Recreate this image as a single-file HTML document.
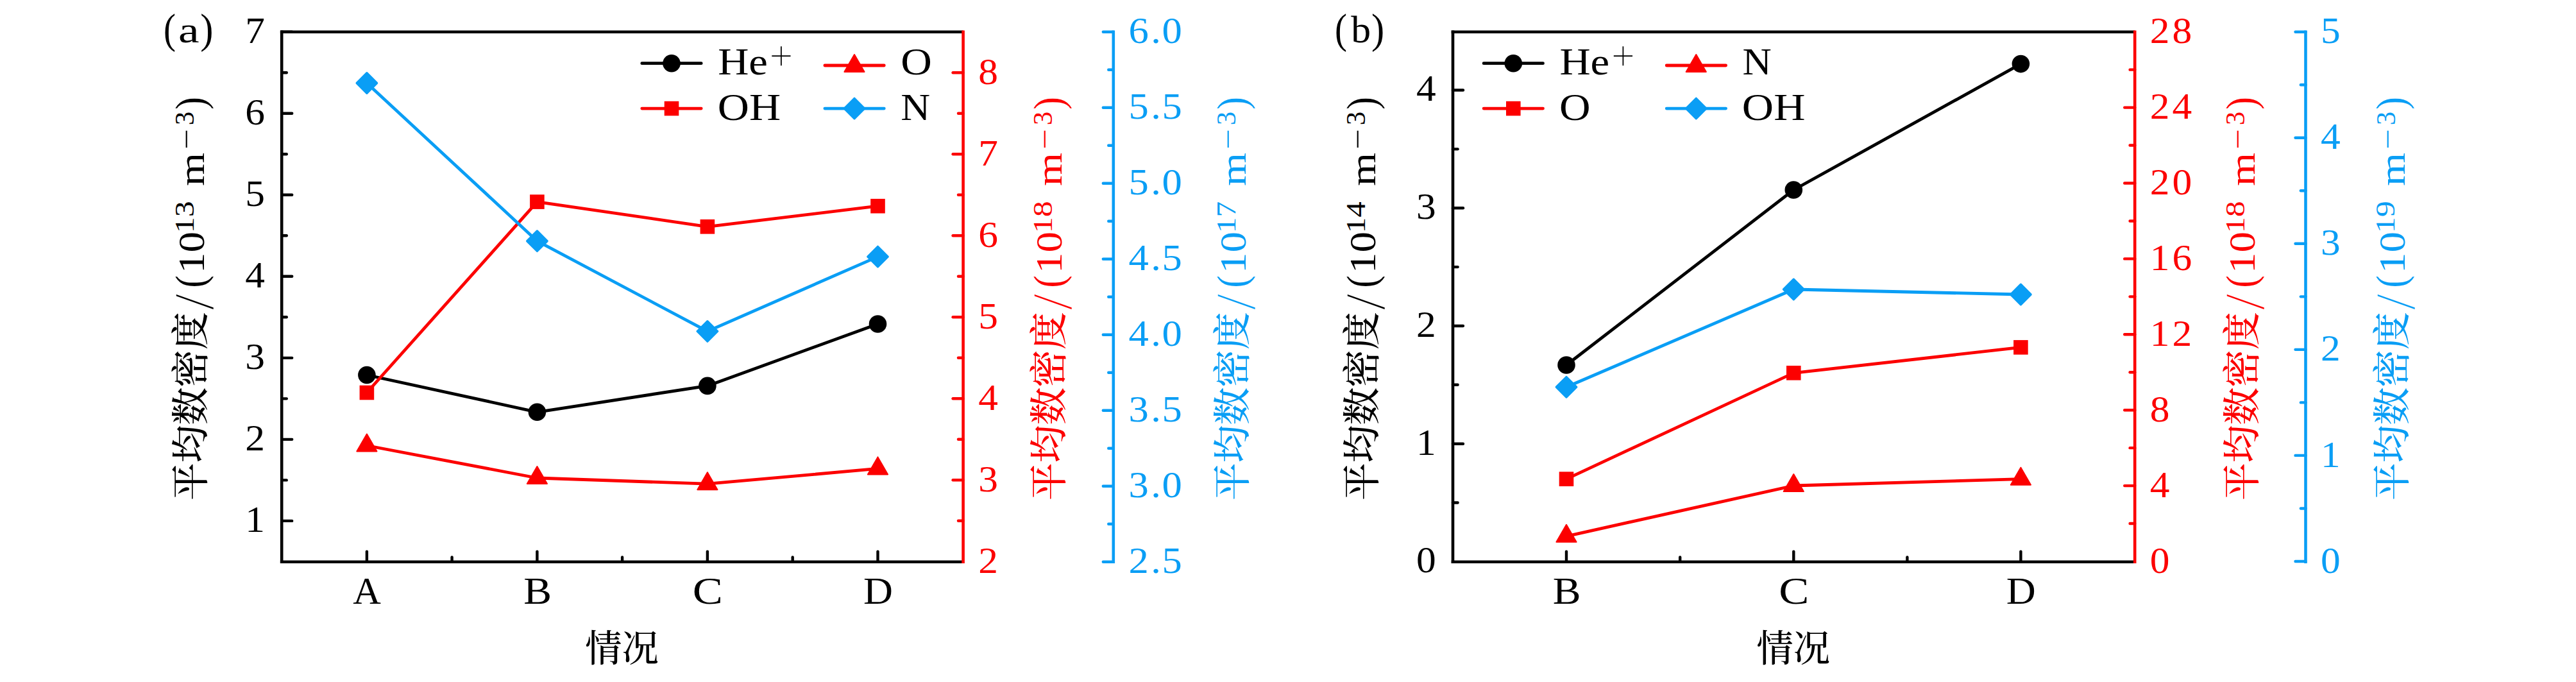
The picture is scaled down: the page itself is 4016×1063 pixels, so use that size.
<!DOCTYPE html>
<html lang="zh"><head><meta charset="utf-8"><title>平均数密度</title>
<style>
html,body{margin:0;padding:0;background:#fff;}
body{width:4016px;height:1063px;overflow:hidden;}
svg{display:block;}
text{font-family:"Liberation Serif","Noto Serif CJK SC",serif;}
</style></head><body>
<svg width="4016" height="1063" viewBox="0 0 4016 1063">
<rect x="0" y="0" width="4016" height="1063" fill="#fff"/>
<polyline points="571.90,694.50 837.40,745.00 1102.90,754.20 1368.50,730.40" fill="none" stroke="#fc0000" stroke-width="4.8" stroke-linejoin="round"/>
<polygon points="571.90,676.50 587.49,703.50 556.31,703.50" fill="#fc0000" stroke="#fc0000" stroke-width="2" stroke-linejoin="round"/>
<polygon points="837.40,727.00 852.99,754.00 821.81,754.00" fill="#fc0000" stroke="#fc0000" stroke-width="2" stroke-linejoin="round"/>
<polygon points="1102.90,736.20 1118.49,763.20 1087.31,763.20" fill="#fc0000" stroke="#fc0000" stroke-width="2" stroke-linejoin="round"/>
<polygon points="1368.50,712.40 1384.09,739.40 1352.91,739.40" fill="#fc0000" stroke="#fc0000" stroke-width="2" stroke-linejoin="round"/>
<polyline points="571.90,584.50 837.40,642.30 1102.90,601.40 1368.50,505.00" fill="none" stroke="#000000" stroke-width="4.8" stroke-linejoin="round"/>
<circle cx="571.90" cy="584.50" r="13.8" fill="#000000"/>
<circle cx="837.40" cy="642.30" r="13.8" fill="#000000"/>
<circle cx="1102.90" cy="601.40" r="13.8" fill="#000000"/>
<circle cx="1368.50" cy="505.00" r="13.8" fill="#000000"/>
<polyline points="571.90,612.00 837.40,314.60 1102.90,353.30 1368.50,321.20" fill="none" stroke="#fc0000" stroke-width="4.8" stroke-linejoin="round"/>
<rect x="560.60" y="600.70" width="22.6" height="22.6" fill="#fc0000"/>
<rect x="826.10" y="303.30" width="22.6" height="22.6" fill="#fc0000"/>
<rect x="1091.60" y="342.00" width="22.6" height="22.6" fill="#fc0000"/>
<rect x="1357.20" y="309.90" width="22.6" height="22.6" fill="#fc0000"/>
<polyline points="571.90,129.50 837.40,375.70 1102.90,516.40 1368.50,400.10" fill="none" stroke="#0a9ef5" stroke-width="4.8" stroke-linejoin="round"/>
<polygon points="571.90,113.80 587.60,129.50 571.90,145.20 556.20,129.50" fill="#0a9ef5" stroke="#0a9ef5" stroke-width="3.4" stroke-linejoin="round"/>
<polygon points="837.40,360.00 853.10,375.70 837.40,391.40 821.70,375.70" fill="#0a9ef5" stroke="#0a9ef5" stroke-width="3.4" stroke-linejoin="round"/>
<polygon points="1102.90,500.70 1118.60,516.40 1102.90,532.10 1087.20,516.40" fill="#0a9ef5" stroke="#0a9ef5" stroke-width="3.4" stroke-linejoin="round"/>
<polygon points="1368.50,384.40 1384.20,400.10 1368.50,415.80 1352.80,400.10" fill="#0a9ef5" stroke="#0a9ef5" stroke-width="3.4" stroke-linejoin="round"/>
<line x1="439.20" y1="47.40" x2="439.20" y2="878.10" stroke="#000000" stroke-width="4.6" stroke-linecap="butt"/>
<line x1="436.90" y1="49.70" x2="1501.60" y2="49.70" stroke="#000000" stroke-width="4.6" stroke-linecap="butt"/>
<line x1="436.90" y1="875.80" x2="1501.60" y2="875.80" stroke="#000000" stroke-width="4.6" stroke-linecap="butt"/>
<line x1="571.90" y1="875.80" x2="571.90" y2="859.60" stroke="#000000" stroke-width="4.4" stroke-linecap="round"/>
<line x1="837.40" y1="875.80" x2="837.40" y2="859.60" stroke="#000000" stroke-width="4.4" stroke-linecap="round"/>
<line x1="1102.90" y1="875.80" x2="1102.90" y2="859.60" stroke="#000000" stroke-width="4.4" stroke-linecap="round"/>
<line x1="1368.50" y1="875.80" x2="1368.50" y2="859.60" stroke="#000000" stroke-width="4.4" stroke-linecap="round"/>
<line x1="704.60" y1="875.80" x2="704.60" y2="868.50" stroke="#000000" stroke-width="4.4" stroke-linecap="round"/>
<line x1="970.10" y1="875.80" x2="970.10" y2="868.50" stroke="#000000" stroke-width="4.4" stroke-linecap="round"/>
<line x1="1235.70" y1="875.80" x2="1235.70" y2="868.50" stroke="#000000" stroke-width="4.4" stroke-linecap="round"/>
<line x1="439.20" y1="811.90" x2="455.20" y2="811.90" stroke="#000000" stroke-width="4.4" stroke-linecap="round"/>
<line x1="439.20" y1="684.87" x2="455.20" y2="684.87" stroke="#000000" stroke-width="4.4" stroke-linecap="round"/>
<line x1="439.20" y1="557.83" x2="455.20" y2="557.83" stroke="#000000" stroke-width="4.4" stroke-linecap="round"/>
<line x1="439.20" y1="430.80" x2="455.20" y2="430.80" stroke="#000000" stroke-width="4.4" stroke-linecap="round"/>
<line x1="439.20" y1="303.77" x2="455.20" y2="303.77" stroke="#000000" stroke-width="4.4" stroke-linecap="round"/>
<line x1="439.20" y1="176.73" x2="455.20" y2="176.73" stroke="#000000" stroke-width="4.4" stroke-linecap="round"/>
<line x1="439.20" y1="49.70" x2="455.20" y2="49.70" stroke="#000000" stroke-width="4.4" stroke-linecap="round"/>
<line x1="439.20" y1="748.39" x2="446.80" y2="748.39" stroke="#000000" stroke-width="4.4" stroke-linecap="round"/>
<line x1="439.20" y1="621.35" x2="446.80" y2="621.35" stroke="#000000" stroke-width="4.4" stroke-linecap="round"/>
<line x1="439.20" y1="494.32" x2="446.80" y2="494.32" stroke="#000000" stroke-width="4.4" stroke-linecap="round"/>
<line x1="439.20" y1="367.28" x2="446.80" y2="367.28" stroke="#000000" stroke-width="4.4" stroke-linecap="round"/>
<line x1="439.20" y1="240.25" x2="446.80" y2="240.25" stroke="#000000" stroke-width="4.4" stroke-linecap="round"/>
<line x1="439.20" y1="113.22" x2="446.80" y2="113.22" stroke="#000000" stroke-width="4.4" stroke-linecap="round"/>
<text transform="translate(413.00,828.80) scale(1.0600,1.0000)" font-size="58" fill="#000000" text-anchor="end">1</text>
<text transform="translate(413.00,701.77) scale(1.0600,1.0000)" font-size="58" fill="#000000" text-anchor="end">2</text>
<text transform="translate(413.00,574.73) scale(1.0600,1.0000)" font-size="58" fill="#000000" text-anchor="end">3</text>
<text transform="translate(413.00,447.70) scale(1.0600,1.0000)" font-size="58" fill="#000000" text-anchor="end">4</text>
<text transform="translate(413.00,320.67) scale(1.0600,1.0000)" font-size="58" fill="#000000" text-anchor="end">5</text>
<text transform="translate(413.00,193.63) scale(1.0600,1.0000)" font-size="58" fill="#000000" text-anchor="end">6</text>
<text transform="translate(413.00,66.60) scale(1.0600,1.0000)" font-size="58" fill="#000000" text-anchor="end">7</text>
<line x1="1501.60" y1="748.28" x2="1485.60" y2="748.28" stroke="#fc0000" stroke-width="4.4" stroke-linecap="round"/>
<line x1="1501.60" y1="621.26" x2="1485.60" y2="621.26" stroke="#fc0000" stroke-width="4.4" stroke-linecap="round"/>
<line x1="1501.60" y1="494.25" x2="1485.60" y2="494.25" stroke="#fc0000" stroke-width="4.4" stroke-linecap="round"/>
<line x1="1501.60" y1="367.24" x2="1485.60" y2="367.24" stroke="#fc0000" stroke-width="4.4" stroke-linecap="round"/>
<line x1="1501.60" y1="240.22" x2="1485.60" y2="240.22" stroke="#fc0000" stroke-width="4.4" stroke-linecap="round"/>
<line x1="1501.60" y1="113.21" x2="1485.60" y2="113.21" stroke="#fc0000" stroke-width="4.4" stroke-linecap="round"/>
<line x1="1501.60" y1="811.78" x2="1494.00" y2="811.78" stroke="#fc0000" stroke-width="4.4" stroke-linecap="round"/>
<line x1="1501.60" y1="684.77" x2="1494.00" y2="684.77" stroke="#fc0000" stroke-width="4.4" stroke-linecap="round"/>
<line x1="1501.60" y1="557.76" x2="1494.00" y2="557.76" stroke="#fc0000" stroke-width="4.4" stroke-linecap="round"/>
<line x1="1501.60" y1="430.74" x2="1494.00" y2="430.74" stroke="#fc0000" stroke-width="4.4" stroke-linecap="round"/>
<line x1="1501.60" y1="303.73" x2="1494.00" y2="303.73" stroke="#fc0000" stroke-width="4.4" stroke-linecap="round"/>
<line x1="1501.60" y1="176.71" x2="1494.00" y2="176.71" stroke="#fc0000" stroke-width="4.4" stroke-linecap="round"/>
<line x1="1501.60" y1="47.40" x2="1501.60" y2="878.10" stroke="#fc0000" stroke-width="4.6" stroke-linecap="butt"/>
<text transform="translate(1525.20,892.89) scale(1.0600,1.0000)" font-size="58" fill="#fc0000" text-anchor="start">2</text>
<text transform="translate(1525.20,765.88) scale(1.0600,1.0000)" font-size="58" fill="#fc0000" text-anchor="start">3</text>
<text transform="translate(1525.20,638.86) scale(1.0600,1.0000)" font-size="58" fill="#fc0000" text-anchor="start">4</text>
<text transform="translate(1525.20,511.85) scale(1.0600,1.0000)" font-size="58" fill="#fc0000" text-anchor="start">5</text>
<text transform="translate(1525.20,384.84) scale(1.0600,1.0000)" font-size="58" fill="#fc0000" text-anchor="start">6</text>
<text transform="translate(1525.20,257.82) scale(1.0600,1.0000)" font-size="58" fill="#fc0000" text-anchor="start">7</text>
<text transform="translate(1525.20,130.81) scale(1.0600,1.0000)" font-size="58" fill="#fc0000" text-anchor="start">8</text>
<line x1="1735.80" y1="875.80" x2="1719.80" y2="875.80" stroke="#0a9ef5" stroke-width="4.4" stroke-linecap="round"/>
<line x1="1735.80" y1="757.79" x2="1719.80" y2="757.79" stroke="#0a9ef5" stroke-width="4.4" stroke-linecap="round"/>
<line x1="1735.80" y1="639.77" x2="1719.80" y2="639.77" stroke="#0a9ef5" stroke-width="4.4" stroke-linecap="round"/>
<line x1="1735.80" y1="521.76" x2="1719.80" y2="521.76" stroke="#0a9ef5" stroke-width="4.4" stroke-linecap="round"/>
<line x1="1735.80" y1="403.74" x2="1719.80" y2="403.74" stroke="#0a9ef5" stroke-width="4.4" stroke-linecap="round"/>
<line x1="1735.80" y1="285.73" x2="1719.80" y2="285.73" stroke="#0a9ef5" stroke-width="4.4" stroke-linecap="round"/>
<line x1="1735.80" y1="167.71" x2="1719.80" y2="167.71" stroke="#0a9ef5" stroke-width="4.4" stroke-linecap="round"/>
<line x1="1735.80" y1="49.70" x2="1719.80" y2="49.70" stroke="#0a9ef5" stroke-width="4.4" stroke-linecap="round"/>
<line x1="1735.80" y1="816.79" x2="1728.20" y2="816.79" stroke="#0a9ef5" stroke-width="4.4" stroke-linecap="round"/>
<line x1="1735.80" y1="698.78" x2="1728.20" y2="698.78" stroke="#0a9ef5" stroke-width="4.4" stroke-linecap="round"/>
<line x1="1735.80" y1="580.76" x2="1728.20" y2="580.76" stroke="#0a9ef5" stroke-width="4.4" stroke-linecap="round"/>
<line x1="1735.80" y1="462.75" x2="1728.20" y2="462.75" stroke="#0a9ef5" stroke-width="4.4" stroke-linecap="round"/>
<line x1="1735.80" y1="344.74" x2="1728.20" y2="344.74" stroke="#0a9ef5" stroke-width="4.4" stroke-linecap="round"/>
<line x1="1735.80" y1="226.72" x2="1728.20" y2="226.72" stroke="#0a9ef5" stroke-width="4.4" stroke-linecap="round"/>
<line x1="1735.80" y1="108.71" x2="1728.20" y2="108.71" stroke="#0a9ef5" stroke-width="4.4" stroke-linecap="round"/>
<line x1="1735.80" y1="47.40" x2="1735.80" y2="878.10" stroke="#0a9ef5" stroke-width="4.6" stroke-linecap="butt"/>
<text transform="translate(1759.60,893.40) scale(1.0800,1.0000)" font-size="58" fill="#0a9ef5" text-anchor="start" x="0.00 32.04 48.15">2.5</text>
<text transform="translate(1759.60,775.39) scale(1.0800,1.0000)" font-size="58" fill="#0a9ef5" text-anchor="start" x="0.00 32.04 48.15">3.0</text>
<text transform="translate(1759.60,657.37) scale(1.0800,1.0000)" font-size="58" fill="#0a9ef5" text-anchor="start" x="0.00 32.04 48.15">3.5</text>
<text transform="translate(1759.60,539.36) scale(1.0800,1.0000)" font-size="58" fill="#0a9ef5" text-anchor="start" x="0.00 32.04 48.15">4.0</text>
<text transform="translate(1759.60,421.34) scale(1.0800,1.0000)" font-size="58" fill="#0a9ef5" text-anchor="start" x="0.00 32.04 48.15">4.5</text>
<text transform="translate(1759.60,303.33) scale(1.0800,1.0000)" font-size="58" fill="#0a9ef5" text-anchor="start" x="0.00 32.04 48.15">5.0</text>
<text transform="translate(1759.60,185.31) scale(1.0800,1.0000)" font-size="58" fill="#0a9ef5" text-anchor="start" x="0.00 32.04 48.15">5.5</text>
<text transform="translate(1759.60,67.30) scale(1.0800,1.0000)" font-size="58" fill="#0a9ef5" text-anchor="start" x="0.00 32.04 48.15">6.0</text>
<text transform="translate(550.15,941.20) scale(1.0070,1.0000)" font-size="60" fill="#000000">A</text>
<text transform="translate(816.21,941.20) scale(1.0952,1.0000)" font-size="60" fill="#000000">B</text>
<text transform="translate(1079.78,941.20) scale(1.1768,1.0000)" font-size="60" fill="#000000">C</text>
<text transform="translate(1345.91,941.20) scale(1.0606,1.0000)" font-size="60" fill="#000000">D</text>
<text transform="translate(912.25,1030.80) scale(0.9808,1.0000)" font-size="58.5" fill="#000000" font-weight="500">情况</text>
<g transform="translate(317.50,777.6) rotate(-90)">
<text transform="translate(-2.35,0.80) scale(1.0007,1.0000)" font-size="58.7" fill="#000000" font-weight="500">平均数密度</text>
<text transform="translate(294.30,14.51) scale(0.9214,0.8866)" font-size="100" fill="#000000" stroke="#fff" stroke-width="1.7">/</text>
<text transform="translate(329.01,1.41) scale(0.5736,0.6462)" font-size="100" fill="#000000">(</text>
<text transform="translate(351.48,0.00) scale(1.1404,1.0000)" font-size="57" fill="#000000">10</text>
<text transform="translate(414.35,-15.60) scale(1.1905,1.0000)" font-size="42" fill="#000000">13</text>
<text transform="translate(487.56,0.00) scale(1.1548,1.0000)" font-size="58" fill="#000000">m</text>
<text transform="translate(544.75,-12.19) scale(0.5663,0.4364)" font-size="100" fill="#000000">−</text>
<text transform="translate(582.47,-15.50) scale(1.0204,1.0000)" font-size="42" fill="#000000">3</text>
<text transform="translate(607.17,1.41) scale(0.5769,0.6462)" font-size="100" fill="#000000">)</text>
</g>
<g transform="translate(1655.30,777.6) rotate(-90)">
<text transform="translate(-2.35,0.80) scale(1.0007,1.0000)" font-size="58.7" fill="#fc0000" font-weight="500">平均数密度</text>
<text transform="translate(294.30,14.51) scale(0.9214,0.8866)" font-size="100" fill="#fc0000" stroke="#fff" stroke-width="1.7">/</text>
<text transform="translate(329.01,1.41) scale(0.5736,0.6462)" font-size="100" fill="#fc0000">(</text>
<text transform="translate(351.48,0.00) scale(1.1404,1.0000)" font-size="57" fill="#fc0000">10</text>
<text transform="translate(414.35,-15.60) scale(1.1905,1.0000)" font-size="42" fill="#fc0000">18</text>
<text transform="translate(487.56,0.00) scale(1.1548,1.0000)" font-size="58" fill="#fc0000">m</text>
<text transform="translate(544.75,-12.19) scale(0.5663,0.4364)" font-size="100" fill="#fc0000">−</text>
<text transform="translate(582.47,-15.50) scale(1.0204,1.0000)" font-size="42" fill="#fc0000">3</text>
<text transform="translate(607.17,1.41) scale(0.5769,0.6462)" font-size="100" fill="#fc0000">)</text>
</g>
<g transform="translate(1941.60,777.6) rotate(-90)">
<text transform="translate(-2.35,0.80) scale(1.0007,1.0000)" font-size="58.7" fill="#0a9ef5" font-weight="500">平均数密度</text>
<text transform="translate(294.30,14.51) scale(0.9214,0.8866)" font-size="100" fill="#0a9ef5" stroke="#fff" stroke-width="1.7">/</text>
<text transform="translate(329.01,1.41) scale(0.5736,0.6462)" font-size="100" fill="#0a9ef5">(</text>
<text transform="translate(351.48,0.00) scale(1.1404,1.0000)" font-size="57" fill="#0a9ef5">10</text>
<text transform="translate(414.40,-15.60) scale(1.1771,1.0000)" font-size="42" fill="#0a9ef5">17</text>
<text transform="translate(487.56,0.00) scale(1.1548,1.0000)" font-size="58" fill="#0a9ef5">m</text>
<text transform="translate(544.75,-12.19) scale(0.5663,0.4364)" font-size="100" fill="#0a9ef5">−</text>
<text transform="translate(582.47,-15.50) scale(1.0204,1.0000)" font-size="42" fill="#0a9ef5">3</text>
<text transform="translate(607.17,1.41) scale(0.5769,0.6462)" font-size="100" fill="#0a9ef5">)</text>
</g>
<text transform="translate(255.12,66.83) scale(0.5698,0.6451)" font-size="100" fill="#000000">(</text>
<text transform="translate(277.93,66.30) scale(1.2895,1.0000)" font-size="57" fill="#000000">a</text>
<text transform="translate(312.28,66.83) scale(0.6077,0.6451)" font-size="100" fill="#000000">)</text>
<line x1="1000.80" y1="98.70" x2="1093.20" y2="98.70" stroke="#000000" stroke-width="4.8" stroke-linecap="round"/>
<circle cx="1047.00" cy="98.70" r="13.8" fill="#000000"/>
<text transform="translate(1119.13,116.30) scale(1.1124,1.0000)" font-size="60" fill="#000000">He</text>
<text transform="translate(1199.33,109.93) scale(0.6611,0.6766)" font-size="100" fill="#000000" stroke="#fff" stroke-width="2.2">+</text>
<line x1="1000.80" y1="169.10" x2="1093.20" y2="169.10" stroke="#fc0000" stroke-width="4.8" stroke-linecap="round"/>
<rect x="1035.70" y="157.80" width="22.6" height="22.6" fill="#fc0000"/>
<text transform="translate(1118.78,186.70) scale(1.1352,1.0000)" font-size="60" fill="#000000">OH</text>
<line x1="1285.90" y1="102.00" x2="1378.30" y2="102.00" stroke="#fc0000" stroke-width="4.8" stroke-linecap="round"/>
<polygon points="1332.00,85.00 1347.59,112.00 1316.41,112.00" fill="#fc0000" stroke="#fc0000" stroke-width="2" stroke-linejoin="round"/>
<text transform="translate(1404.31,116.30) scale(1.1214,1.0000)" font-size="60" fill="#000000">O</text>
<line x1="1285.90" y1="169.10" x2="1378.30" y2="169.10" stroke="#0a9ef5" stroke-width="4.8" stroke-linecap="round"/>
<polygon points="1332.00,153.40 1347.70,169.10 1332.00,184.80 1316.30,169.10" fill="#0a9ef5" stroke="#0a9ef5" stroke-width="3.4" stroke-linejoin="round"/>
<text transform="translate(1404.31,186.70) scale(1.0593,1.0000)" font-size="60" fill="#000000">N</text>
<polyline points="2442.00,835.80 2796.30,757.00 3150.40,746.70" fill="none" stroke="#fc0000" stroke-width="4.8" stroke-linejoin="round"/>
<polygon points="2442.00,817.80 2457.59,844.80 2426.41,844.80" fill="#fc0000" stroke="#fc0000" stroke-width="2" stroke-linejoin="round"/>
<polygon points="2796.30,739.00 2811.89,766.00 2780.71,766.00" fill="#fc0000" stroke="#fc0000" stroke-width="2" stroke-linejoin="round"/>
<polygon points="3150.40,728.70 3165.99,755.70 3134.81,755.70" fill="#fc0000" stroke="#fc0000" stroke-width="2" stroke-linejoin="round"/>
<polyline points="2442.00,746.60 2796.30,581.30 3150.40,541.40" fill="none" stroke="#fc0000" stroke-width="4.8" stroke-linejoin="round"/>
<rect x="2430.70" y="735.30" width="22.6" height="22.6" fill="#fc0000"/>
<rect x="2785.00" y="570.00" width="22.6" height="22.6" fill="#fc0000"/>
<rect x="3139.10" y="530.10" width="22.6" height="22.6" fill="#fc0000"/>
<polyline points="2442.00,603.30 2796.30,451.00 3150.40,459.00" fill="none" stroke="#0a9ef5" stroke-width="4.8" stroke-linejoin="round"/>
<polygon points="2442.00,587.60 2457.70,603.30 2442.00,619.00 2426.30,603.30" fill="#0a9ef5" stroke="#0a9ef5" stroke-width="3.4" stroke-linejoin="round"/>
<polygon points="2796.30,435.30 2812.00,451.00 2796.30,466.70 2780.60,451.00" fill="#0a9ef5" stroke="#0a9ef5" stroke-width="3.4" stroke-linejoin="round"/>
<polygon points="3150.40,443.30 3166.10,459.00 3150.40,474.70 3134.70,459.00" fill="#0a9ef5" stroke="#0a9ef5" stroke-width="3.4" stroke-linejoin="round"/>
<polyline points="2442.00,569.00 2796.30,296.00 3150.40,99.60" fill="none" stroke="#000000" stroke-width="4.8" stroke-linejoin="round"/>
<circle cx="2442.00" cy="569.00" r="13.8" fill="#000000"/>
<circle cx="2796.30" cy="296.00" r="13.8" fill="#000000"/>
<circle cx="3150.40" cy="99.60" r="13.8" fill="#000000"/>
<line x1="2265.00" y1="47.40" x2="2265.00" y2="878.10" stroke="#000000" stroke-width="4.6" stroke-linecap="butt"/>
<line x1="2262.70" y1="49.70" x2="3328.20" y2="49.70" stroke="#000000" stroke-width="4.6" stroke-linecap="butt"/>
<line x1="2262.70" y1="875.80" x2="3328.20" y2="875.80" stroke="#000000" stroke-width="4.6" stroke-linecap="butt"/>
<line x1="2442.00" y1="875.80" x2="2442.00" y2="859.60" stroke="#000000" stroke-width="4.4" stroke-linecap="round"/>
<line x1="2796.30" y1="875.80" x2="2796.30" y2="859.60" stroke="#000000" stroke-width="4.4" stroke-linecap="round"/>
<line x1="3150.40" y1="875.80" x2="3150.40" y2="859.60" stroke="#000000" stroke-width="4.4" stroke-linecap="round"/>
<line x1="2619.20" y1="875.80" x2="2619.20" y2="868.50" stroke="#000000" stroke-width="4.4" stroke-linecap="round"/>
<line x1="2973.40" y1="875.80" x2="2973.40" y2="868.50" stroke="#000000" stroke-width="4.4" stroke-linecap="round"/>
<line x1="2265.00" y1="691.69" x2="2281.00" y2="691.69" stroke="#000000" stroke-width="4.4" stroke-linecap="round"/>
<line x1="2265.00" y1="507.95" x2="2281.00" y2="507.95" stroke="#000000" stroke-width="4.4" stroke-linecap="round"/>
<line x1="2265.00" y1="324.21" x2="2281.00" y2="324.21" stroke="#000000" stroke-width="4.4" stroke-linecap="round"/>
<line x1="2265.00" y1="140.47" x2="2281.00" y2="140.47" stroke="#000000" stroke-width="4.4" stroke-linecap="round"/>
<line x1="2265.00" y1="783.56" x2="2272.60" y2="783.56" stroke="#000000" stroke-width="4.4" stroke-linecap="round"/>
<line x1="2265.00" y1="599.82" x2="2272.60" y2="599.82" stroke="#000000" stroke-width="4.4" stroke-linecap="round"/>
<line x1="2265.00" y1="416.08" x2="2272.60" y2="416.08" stroke="#000000" stroke-width="4.4" stroke-linecap="round"/>
<line x1="2265.00" y1="232.34" x2="2272.60" y2="232.34" stroke="#000000" stroke-width="4.4" stroke-linecap="round"/>
<text transform="translate(2238.80,892.33) scale(1.0600,1.0000)" font-size="58" fill="#000000" text-anchor="end">0</text>
<text transform="translate(2238.80,708.59) scale(1.0600,1.0000)" font-size="58" fill="#000000" text-anchor="end">1</text>
<text transform="translate(2238.80,524.85) scale(1.0600,1.0000)" font-size="58" fill="#000000" text-anchor="end">2</text>
<text transform="translate(2238.80,341.11) scale(1.0600,1.0000)" font-size="58" fill="#000000" text-anchor="end">3</text>
<text transform="translate(2238.80,157.37) scale(1.0600,1.0000)" font-size="58" fill="#000000" text-anchor="end">4</text>
<line x1="3328.20" y1="757.10" x2="3312.20" y2="757.10" stroke="#fc0000" stroke-width="4.4" stroke-linecap="round"/>
<line x1="3328.20" y1="639.20" x2="3312.20" y2="639.20" stroke="#fc0000" stroke-width="4.4" stroke-linecap="round"/>
<line x1="3328.20" y1="521.30" x2="3312.20" y2="521.30" stroke="#fc0000" stroke-width="4.4" stroke-linecap="round"/>
<line x1="3328.20" y1="403.40" x2="3312.20" y2="403.40" stroke="#fc0000" stroke-width="4.4" stroke-linecap="round"/>
<line x1="3328.20" y1="285.50" x2="3312.20" y2="285.50" stroke="#fc0000" stroke-width="4.4" stroke-linecap="round"/>
<line x1="3328.20" y1="167.60" x2="3312.20" y2="167.60" stroke="#fc0000" stroke-width="4.4" stroke-linecap="round"/>
<line x1="3328.20" y1="816.05" x2="3320.60" y2="816.05" stroke="#fc0000" stroke-width="4.4" stroke-linecap="round"/>
<line x1="3328.20" y1="698.15" x2="3320.60" y2="698.15" stroke="#fc0000" stroke-width="4.4" stroke-linecap="round"/>
<line x1="3328.20" y1="580.25" x2="3320.60" y2="580.25" stroke="#fc0000" stroke-width="4.4" stroke-linecap="round"/>
<line x1="3328.20" y1="462.35" x2="3320.60" y2="462.35" stroke="#fc0000" stroke-width="4.4" stroke-linecap="round"/>
<line x1="3328.20" y1="344.45" x2="3320.60" y2="344.45" stroke="#fc0000" stroke-width="4.4" stroke-linecap="round"/>
<line x1="3328.20" y1="226.55" x2="3320.60" y2="226.55" stroke="#fc0000" stroke-width="4.4" stroke-linecap="round"/>
<line x1="3328.20" y1="108.65" x2="3320.60" y2="108.65" stroke="#fc0000" stroke-width="4.4" stroke-linecap="round"/>
<line x1="3328.20" y1="47.40" x2="3328.20" y2="878.10" stroke="#fc0000" stroke-width="4.6" stroke-linecap="butt"/>
<text transform="translate(3351.80,892.60) scale(1.0600,1.0000)" font-size="58" fill="#fc0000" text-anchor="start">0</text>
<text transform="translate(3351.80,774.70) scale(1.0600,1.0000)" font-size="58" fill="#fc0000" text-anchor="start">4</text>
<text transform="translate(3351.80,656.80) scale(1.0600,1.0000)" font-size="58" fill="#fc0000" text-anchor="start">8</text>
<text transform="translate(3351.80,538.90) scale(1.0600,1.0000)" font-size="58" fill="#fc0000" text-anchor="start" x="0.00 32.64">12</text>
<text transform="translate(3351.80,421.00) scale(1.0600,1.0000)" font-size="58" fill="#fc0000" text-anchor="start" x="0.00 32.64">16</text>
<text transform="translate(3351.80,303.10) scale(1.0600,1.0000)" font-size="58" fill="#fc0000" text-anchor="start" x="0.00 32.64">20</text>
<text transform="translate(3351.80,185.20) scale(1.0600,1.0000)" font-size="58" fill="#fc0000" text-anchor="start" x="0.00 32.64">24</text>
<text transform="translate(3351.80,67.30) scale(1.0600,1.0000)" font-size="58" fill="#fc0000" text-anchor="start" x="0.00 32.64">28</text>
<line x1="3594.50" y1="874.97" x2="3578.50" y2="874.97" stroke="#0a9ef5" stroke-width="4.4" stroke-linecap="round"/>
<line x1="3594.50" y1="709.92" x2="3578.50" y2="709.92" stroke="#0a9ef5" stroke-width="4.4" stroke-linecap="round"/>
<line x1="3594.50" y1="544.86" x2="3578.50" y2="544.86" stroke="#0a9ef5" stroke-width="4.4" stroke-linecap="round"/>
<line x1="3594.50" y1="379.81" x2="3578.50" y2="379.81" stroke="#0a9ef5" stroke-width="4.4" stroke-linecap="round"/>
<line x1="3594.50" y1="214.75" x2="3578.50" y2="214.75" stroke="#0a9ef5" stroke-width="4.4" stroke-linecap="round"/>
<line x1="3594.50" y1="49.70" x2="3578.50" y2="49.70" stroke="#0a9ef5" stroke-width="4.4" stroke-linecap="round"/>
<line x1="3594.50" y1="792.45" x2="3586.90" y2="792.45" stroke="#0a9ef5" stroke-width="4.4" stroke-linecap="round"/>
<line x1="3594.50" y1="627.39" x2="3586.90" y2="627.39" stroke="#0a9ef5" stroke-width="4.4" stroke-linecap="round"/>
<line x1="3594.50" y1="462.34" x2="3586.90" y2="462.34" stroke="#0a9ef5" stroke-width="4.4" stroke-linecap="round"/>
<line x1="3594.50" y1="297.28" x2="3586.90" y2="297.28" stroke="#0a9ef5" stroke-width="4.4" stroke-linecap="round"/>
<line x1="3594.50" y1="132.23" x2="3586.90" y2="132.23" stroke="#0a9ef5" stroke-width="4.4" stroke-linecap="round"/>
<line x1="3594.50" y1="47.40" x2="3594.50" y2="878.10" stroke="#0a9ef5" stroke-width="4.6" stroke-linecap="butt"/>
<text transform="translate(3618.10,892.57) scale(1.0600,1.0000)" font-size="58" fill="#0a9ef5" text-anchor="start">0</text>
<text transform="translate(3618.10,727.52) scale(1.0600,1.0000)" font-size="58" fill="#0a9ef5" text-anchor="start">1</text>
<text transform="translate(3618.10,562.46) scale(1.0600,1.0000)" font-size="58" fill="#0a9ef5" text-anchor="start">2</text>
<text transform="translate(3618.10,397.41) scale(1.0600,1.0000)" font-size="58" fill="#0a9ef5" text-anchor="start">3</text>
<text transform="translate(3618.10,232.35) scale(1.0600,1.0000)" font-size="58" fill="#0a9ef5" text-anchor="start">4</text>
<text transform="translate(3618.10,67.30) scale(1.0600,1.0000)" font-size="58" fill="#0a9ef5" text-anchor="start">5</text>
<text transform="translate(2420.81,941.20) scale(1.0952,1.0000)" font-size="60" fill="#000000">B</text>
<text transform="translate(2773.18,941.20) scale(1.1768,1.0000)" font-size="60" fill="#000000">C</text>
<text transform="translate(3127.81,941.20) scale(1.0606,1.0000)" font-size="60" fill="#000000">D</text>
<text transform="translate(2738.45,1030.80) scale(0.9808,1.0000)" font-size="58.5" fill="#000000" font-weight="500">情况</text>
<g transform="translate(2143.50,777.6) rotate(-90)">
<text transform="translate(-2.35,0.80) scale(1.0007,1.0000)" font-size="58.7" fill="#000000" font-weight="500">平均数密度</text>
<text transform="translate(294.30,14.51) scale(0.9214,0.8866)" font-size="100" fill="#000000" stroke="#fff" stroke-width="1.7">/</text>
<text transform="translate(329.01,1.41) scale(0.5736,0.6462)" font-size="100" fill="#000000">(</text>
<text transform="translate(351.48,0.00) scale(1.1404,1.0000)" font-size="57" fill="#000000">10</text>
<text transform="translate(414.44,-15.60) scale(1.1640,1.0000)" font-size="42" fill="#000000">14</text>
<text transform="translate(487.56,0.00) scale(1.1548,1.0000)" font-size="58" fill="#000000">m</text>
<text transform="translate(544.75,-12.19) scale(0.5663,0.4364)" font-size="100" fill="#000000">−</text>
<text transform="translate(582.47,-15.50) scale(1.0204,1.0000)" font-size="42" fill="#000000">3</text>
<text transform="translate(607.17,1.41) scale(0.5769,0.6462)" font-size="100" fill="#000000">)</text>
</g>
<g transform="translate(3514.80,777.6) rotate(-90)">
<text transform="translate(-2.35,0.80) scale(1.0007,1.0000)" font-size="58.7" fill="#fc0000" font-weight="500">平均数密度</text>
<text transform="translate(294.30,14.51) scale(0.9214,0.8866)" font-size="100" fill="#fc0000" stroke="#fff" stroke-width="1.7">/</text>
<text transform="translate(329.01,1.41) scale(0.5736,0.6462)" font-size="100" fill="#fc0000">(</text>
<text transform="translate(351.48,0.00) scale(1.1404,1.0000)" font-size="57" fill="#fc0000">10</text>
<text transform="translate(414.35,-15.60) scale(1.1905,1.0000)" font-size="42" fill="#fc0000">18</text>
<text transform="translate(487.56,0.00) scale(1.1548,1.0000)" font-size="58" fill="#fc0000">m</text>
<text transform="translate(544.75,-12.19) scale(0.5663,0.4364)" font-size="100" fill="#fc0000">−</text>
<text transform="translate(582.47,-15.50) scale(1.0204,1.0000)" font-size="42" fill="#fc0000">3</text>
<text transform="translate(607.17,1.41) scale(0.5769,0.6462)" font-size="100" fill="#fc0000">)</text>
</g>
<g transform="translate(3749.00,777.6) rotate(-90)">
<text transform="translate(-2.35,0.80) scale(1.0007,1.0000)" font-size="58.7" fill="#0a9ef5" font-weight="500">平均数密度</text>
<text transform="translate(294.30,14.51) scale(0.9214,0.8866)" font-size="100" fill="#0a9ef5" stroke="#fff" stroke-width="1.7">/</text>
<text transform="translate(329.01,1.41) scale(0.5736,0.6462)" font-size="100" fill="#0a9ef5">(</text>
<text transform="translate(351.48,0.00) scale(1.1404,1.0000)" font-size="57" fill="#0a9ef5">10</text>
<text transform="translate(414.33,-15.60) scale(1.1973,1.0000)" font-size="42" fill="#0a9ef5">19</text>
<text transform="translate(487.56,0.00) scale(1.1548,1.0000)" font-size="58" fill="#0a9ef5">m</text>
<text transform="translate(544.75,-12.19) scale(0.5663,0.4364)" font-size="100" fill="#0a9ef5">−</text>
<text transform="translate(582.47,-15.50) scale(1.0204,1.0000)" font-size="42" fill="#0a9ef5">3</text>
<text transform="translate(607.17,1.41) scale(0.5769,0.6462)" font-size="100" fill="#0a9ef5">)</text>
</g>
<text transform="translate(2080.92,66.83) scale(0.5698,0.6451)" font-size="100" fill="#000000">(</text>
<text transform="translate(2106.30,66.30) scale(1.0461,1.0000)" font-size="59" fill="#000000">b</text>
<text transform="translate(2138.08,66.83) scale(0.6077,0.6451)" font-size="100" fill="#000000">)</text>
<line x1="2313.10" y1="98.70" x2="2405.50" y2="98.70" stroke="#000000" stroke-width="4.8" stroke-linecap="round"/>
<circle cx="2359.30" cy="98.70" r="13.8" fill="#000000"/>
<text transform="translate(2431.43,116.30) scale(1.1124,1.0000)" font-size="60" fill="#000000">He</text>
<text transform="translate(2511.63,109.93) scale(0.6611,0.6766)" font-size="100" fill="#000000" stroke="#fff" stroke-width="2.2">+</text>
<line x1="2313.10" y1="169.10" x2="2405.50" y2="169.10" stroke="#fc0000" stroke-width="4.8" stroke-linecap="round"/>
<rect x="2348.00" y="157.80" width="22.6" height="22.6" fill="#fc0000"/>
<text transform="translate(2430.91,186.70) scale(1.1214,1.0000)" font-size="60" fill="#000000">O</text>
<line x1="2598.20" y1="102.00" x2="2690.60" y2="102.00" stroke="#fc0000" stroke-width="4.8" stroke-linecap="round"/>
<polygon points="2644.30,85.00 2659.89,112.00 2628.71,112.00" fill="#fc0000" stroke="#fc0000" stroke-width="2" stroke-linejoin="round"/>
<text transform="translate(2716.43,116.30) scale(1.0444,1.0000)" font-size="60" fill="#000000">N</text>
<line x1="2598.20" y1="169.10" x2="2690.60" y2="169.10" stroke="#0a9ef5" stroke-width="4.8" stroke-linecap="round"/>
<polygon points="2644.30,153.40 2660.00,169.10 2644.30,184.80 2628.60,169.10" fill="#0a9ef5" stroke="#0a9ef5" stroke-width="3.4" stroke-linejoin="round"/>
<text transform="translate(2715.87,186.70) scale(1.1376,1.0000)" font-size="60" fill="#000000">OH</text>
</svg>
</body></html>
